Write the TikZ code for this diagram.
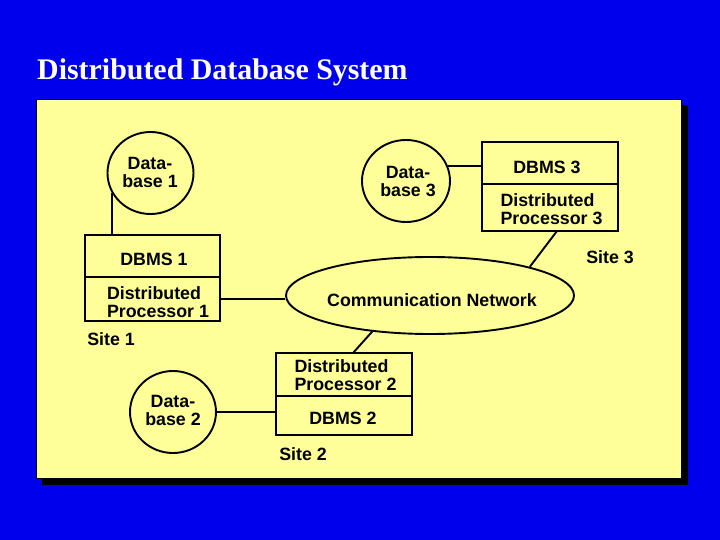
\documentclass[tikz,border=0pt]{standalone}
\usepackage{fontspec}
\setmainfont{Liberation Sans}
\newfontfamily\titlefont{Liberation Serif}
\usetikzlibrary{shapes.geometric}
\definecolor{bgblue}{RGB}{0,0,236}
\definecolor{panelyellow}{RGB}{255,255,153}
\tikzset{
  x=1pt,y=-1pt,
  wire/.style={draw=black,line width=1.9pt},
  blob/.style={ellipse,draw=black,line width=1.9pt,inner sep=0pt},
  cell/.style={rectangle,draw=black,line width=1.9pt,inner sep=0pt},
  lbl/.style={font=\fontsize{17.8}{18}\selectfont\bfseries,inner sep=0pt,text=black},
  lblc/.style={lbl,align=center},
  lbll/.style={lbl,align=left},
}
\begin{document}
\begin{tikzpicture}
\useasboundingbox (0,0) rectangle (720,540);
\fill[bgblue] (0,0) rectangle (720,540);
\fill[black] (42,105) rectangle (688,485);
\draw[black,fill=panelyellow,line width=1pt] (36,100) rectangle (681,478);
\node[name=title,anchor=base west,inner sep=0pt,text=white,font=\titlefont\fontsize{29.9}{32}\selectfont\bfseries] at (37,80) {Distributed Database System};

\node[blob,minimum width=86pt,minimum height=82pt] (db1) at (150.5,173) {};
\node[blob,minimum width=88pt,minimum height=82pt] (db3) at (406,181) {};
\node[blob,minimum width=86pt,minimum height=82pt] (db2) at (173,412) {};
\node[blob,minimum width=288pt,minimum height=77pt] (net) at (430,295.5) {};

\node[cell,minimum width=135pt,minimum height=42pt] (dbms1) at (152.5,256) {};
\node[cell,minimum width=135pt,minimum height=44pt] (proc1) at (152.5,299) {};
\node[cell,minimum width=136pt,minimum height=42pt] (dbms3) at (550,163) {};
\node[cell,minimum width=136pt,minimum height=47pt] (proc3) at (550,207.5) {};
\node[cell,minimum width=136pt,minimum height=43pt] (proc2) at (344,374.5) {};
\node[cell,minimum width=136pt,minimum height=39pt] (dbms2) at (344,415.5) {};

\node[lblc,name=tdb1] at (150,172.5) {Data-\\base 1};
\node[lblc,name=tdb3] at (408,181) {Data-\\base 3};
\node[lblc,name=tdb2] at (173,410) {Data-\\base 2};
\node[lbl,name=tnet] at (432,300) {Communication Network};
\node[lbl,name=tdbms1] at (154,259) {DBMS 1};
\node[lbl,name=tdbms3] at (547,167) {DBMS 3};
\node[lbl,name=tdbms2] at (343,418) {DBMS 2};
\node[lbll,name=tproc1] at (158,302) {Distributed\\Processor 1};
\node[lbll,name=tproc3] at (551.5,209) {Distributed\\Processor 3};
\node[lbll,name=tproc2] at (345.5,375.5) {Distributed\\Processor 2};
\node[lbl,name=tsite1] at (111,339) {Site 1};
\node[lbl,name=tsite2] at (303,454) {Site 2};
\node[lbl,name=tsite3] at (610,257) {Site 3};

\coordinate (p3out) at (557,231);
\coordinate (p2out) at (353,353);
\draw[wire] (db1.208) -- (db1.208 |- dbms1.north);
\draw[wire] (proc1.east) -- (net.west |- proc1.east);
\draw[wire] (db3.20) -- (dbms3.west |- db3.20);
\draw[wire] (p3out) -- (net.16);
\draw[wire] (net.212) -- (p2out);
\draw[wire] (db2.east) -- (proc2.west |- db2.east);
\end{tikzpicture}
\end{document}
